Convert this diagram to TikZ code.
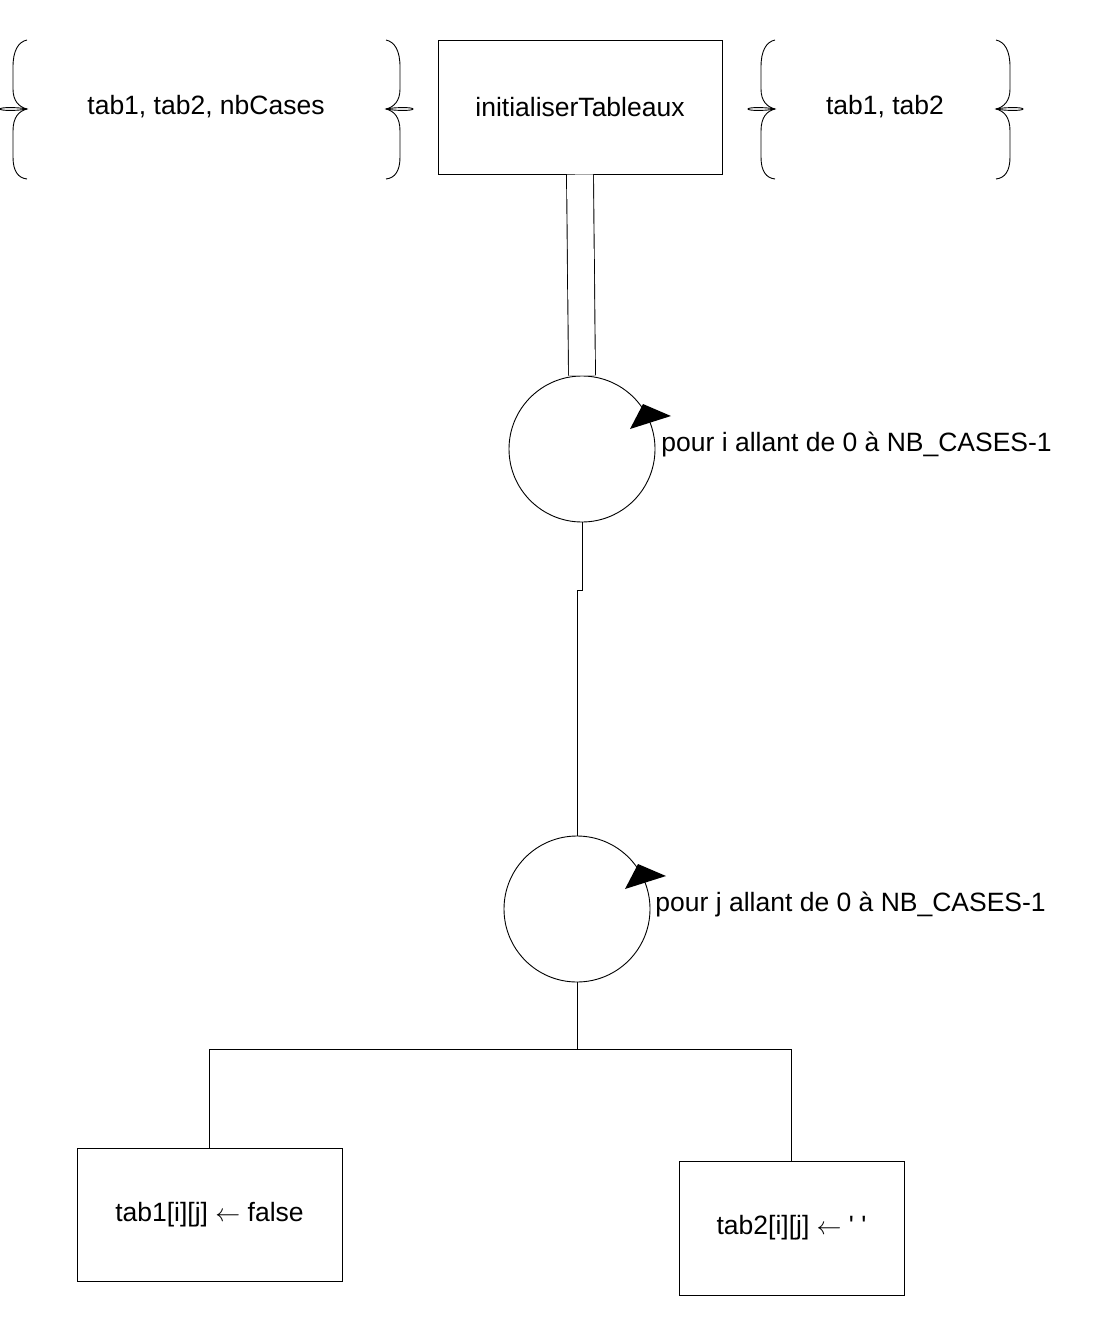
\documentclass[tikz,border=0pt]{standalone}
\usepackage{fontspec}
\usepackage{tikz}
\newfontfamily\diagfont{Liberation Sans}

\tikzset{
  accolade/.pic={
    \draw (0,-69) .. controls (-9,-67) and (-14,-58) .. (-14,-42) -- (-14,-20)
      .. controls (-14,-8) and (-8,-2) .. (0,0)
      .. controls (-8,2) and (-14,8) .. (-14,22) -- (-14,48)
      .. controls (-14,62) and (-9,69) .. (0,70);
    \draw (0,0) .. controls (-10,-2) and (-27,-1.8) .. (-27,0)
      .. controls (-27,1.8) and (-10,2) .. (0,0);
  }
}

\begin{document}
\begin{tikzpicture}[x=1pt,y=-1pt,line width=0.9pt,
  every node/.style={font=\diagfont\fontsize{26.5pt}{30pt}\selectfont,inner sep=0pt},
  boite/.style={draw,rectangle},
  boucle/.style={draw,circle,minimum size=146pt}]
  \useasboundingbox (0,0) rectangle (1092,1330);
  % parametres
  \node (entrees) at (206,107) {tab1, tab2, nbCases};
  \node (sorties) at (885,107) {tab1, tab2};
  \pic at (27,109) {accolade};
  \pic[xscale=-1] at (386,109) {accolade};
  \pic at (775,109) {accolade};
  \pic[xscale=-1] at (996,109) {accolade};
  % sous-programme et boucles
  \node[boite,minimum width=284pt,minimum height=134pt] (init) at (580,107) {initialiserTableaux};
  \node[boucle] (pour_i) at (582,449) {};
  \node[boucle] (pour_j) at (577,909) {};
  \node[anchor=west] (lab_i) at (661,444) {pour i allant de 0 à NB\_CASES-1};
  \node[anchor=west] (lab_j) at (655,904) {pour j allant de 0 à NB\_CASES-1};
  \foreach \b in {pour_i,pour_j}
    \fill[shift={(\b.center)}] (61,-45) -- (89,-33) -- (48,-20) -- cycle;
  % affectations
  \node[boite,minimum width=265pt,minimum height=133pt] (affect1) at (209.5,1214.5) {tab1[i][j] $\leftarrow$ false};
  \node[boite,minimum width=225pt,minimum height=134pt] (affect2) at (791.5,1228) {tab2[i][j] $\leftarrow$ ' '};
  % liaisons
  \draw[double,double distance=26pt] (init.south) -- (pour_i.north);
  \draw (pour_i.south) -- ++(0,68) -| (pour_j.north);
  \draw (pour_j.south) -- ++(0,67) coordinate (fourche);
  \draw (affect1.north) |- (fourche) -| (affect2.north);
\end{tikzpicture}
\end{document}
